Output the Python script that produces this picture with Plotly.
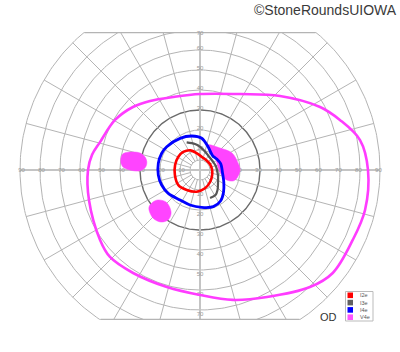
import numpy as np
import plotly.graph_objects as go

# ---------------- data (angles: deg, 0 = right, counter-clockwise; ecc: deg) -------------
v4e_ang = [90, 62, 42.8, 27.7, 19.7, 10.6, 0, -13.6, -24.6, -37.8, -46.8, -62.2, -75.8, -90,
           -105.8, -123, -136, -145, -164.9, 180, 172, 164.4, 149.5, 136.8, 125.9, 110.3]
v4e_ecc = [38, 43, 54.5, 67.8, 74.3, 81.4, 84, 84.9, 84, 84, 80.3, 71.8, 67, 62.5,
           60.8, 61.4, 62.6, 61, 57.5, 56, 54.5, 51.9, 49.3, 46, 42.6, 38.9]

i4e_ang = [122.2, 103.7, 86.9, 70.4, 50, 33, 17, -8, -28, -44, -56.5, -70, -87.4, -106,
           -123.7, -143.7, -158.6, -173.2, 170.9, 156.4, 145]
i4e_ecc = [18.7, 17.5, 15.9, 12.2, 9.6, 10.0, 10.8, 11.4, 13.5, 16.3, 18.6, 19.5, 18.7, 18.2,
           18.0, 19.7, 20.6, 21.0, 21.1, 20.9, 20.3]

i3e_ang = [115.8, 100.9, 88.8, 74.9, 58.7, 35.8, 12.3, -15.5, -35.8, -48.8, -58.2, -70.3]
i3e_ecc = [15.3, 13.2, 11.5, 9.6, 8.2, 7.7, 8.2, 9.3, 11.1, 13.3, 14.7, 14.9]

i2e_ang = [132.9, 115.7, 100.6, 80, 55, 30, 5, -23, -49, -74.7, -98.6, -123.6, -145,
           -168.7, 168.7, 148.5]
i2e_ecc = [12.3, 10.9, 8.5, 6.5, 5.8, 5.8, 6.0, 6.6, 7.8, 9.5, 11.0, 12.0, 13.2,
           12.8, 12.7, 12.7]

# scotomas (V4e), horizontal / vertical eccentricity in degrees
scot1_x = [-39, -37.5, -33.5, -30, -27.5, -26.6, -27.2, -30, -35, -38.5, -39.6]
scot1_y = [7.5, 8.6, 9, 8.5, 6.5, 4.1, 1.5, -0.4, 0, 1.5, 4.1]
scot2_x = [-21, -17, -15, -14.5, -16, -19.5, -23, -25, -25.5, -23.5]
scot2_y = [-15, -16, -19, -22, -25, -26, -24.5, -21.5, -18.5, -16]
scot3_x = [4, 10, 16, 19, 20, 18.5, 16.5, 12.5, 9.5, 8, 5.5]
scot3_y = [12.5, 11, 8.5, 3.5, 0, -4, -5.5, -4.5, 0, 5, 9]

ring_ecc = [5, 10, 20, 30, 40, 50, 60, 70, 80, 90]
spoke_angles = list(range(0, 360, 15))
h_labels = [10, 20, 30, 40, 50, 60, 70, 80, 90]
v_labels = [10, 20, 30, 40, 50, 60, 70]

legend_names = ["I2e", "I3e", "I4e", "V4e"]
legend_colors = ["#ff0000", "#606060", "#0000ff", "#ff55ff"]

Y_TOP, Y_BOT = 69, -75   # visible vertical extent (deg)

# ---------------- helpers -------------
def pol(ang, ecc, close=True):
    a = np.radians(np.array(ang, float))
    e = np.array(ecc, float)
    x, y = e * np.cos(a), e * np.sin(a)
    if close:
        x, y = np.append(x, x[0]), np.append(y, y[0])
    return x, y

fig = go.Figure()

# rings
t = np.radians(np.linspace(0, 360, 361))
for r in ring_ecc:
    fig.add_trace(go.Scatter(x=r * np.cos(t), y=r * np.sin(t), mode="lines",
                             line=dict(color="#6a6a6a" if r == 30 else "#b4b4b4",
                                       width=1.4 if r == 30 else 1),
                             hoverinfo="skip", showlegend=False))
# spokes
sx, sy = [], []
for a in spoke_angles:
    if a % 90 == 0:
        continue
    ar = np.radians(a)
    sx += [5 * np.cos(ar), 90 * np.cos(ar), None]
    sy += [5 * np.sin(ar), 90 * np.sin(ar), None]
fig.add_trace(go.Scatter(x=sx, y=sy, mode="lines", line=dict(color="#b4b4b4", width=1),
                         hoverinfo="skip", showlegend=False))
# main axes
fig.add_trace(go.Scatter(x=[-90, 90, None, 0, 0], y=[0, 0, None, -90, 90], mode="lines",
                         line=dict(color="#c4c4c4", width=2), hoverinfo="skip", showlegend=False))
# clip chords
ct = np.sqrt(90 ** 2 - Y_TOP ** 2)
cb = np.sqrt(90 ** 2 - Y_BOT ** 2)
fig.add_trace(go.Scatter(x=[-ct, ct, None, -cb, cb], y=[Y_TOP - 0.3, Y_TOP - 0.3, None, Y_BOT + 0.3, Y_BOT + 0.3],
                         mode="lines", line=dict(color="#b4b4b4", width=1.2),
                         hoverinfo="skip", showlegend=False))

# labels
lx = [-r + 0.8 for r in h_labels] + [r - 0.8 for r in h_labels] + [0] * len(v_labels) * 2
ly = [0] * len(h_labels) * 2 + [min(r + 1, Y_TOP - 0.6) for r in v_labels] + [-(r + 2.3) for r in v_labels]
lt = [str(r) for r in h_labels] * 2 + [str(r) for r in v_labels] * 2
fig.add_trace(go.Scatter(x=lx, y=ly, text=lt, mode="text", textfont=dict(size=6, color="#9a9a9a"),
                         hoverinfo="skip", showlegend=False, cliponaxis=False))

# scotomas
for sxv, syv in [(scot1_x, scot1_y), (scot2_x, scot2_y), (scot3_x, scot3_y)]:
    fig.add_trace(go.Scatter(x=sxv + [sxv[0]], y=syv + [syv[0]], mode="lines", fill="toself",
                             fillcolor="#ff44ff", line=dict(color="#ff44ff", width=0.5, shape="spline"),
                             hoverinfo="skip", showlegend=False))

# isopters
x, y = pol(v4e_ang, v4e_ecc)
fig.add_trace(go.Scatter(x=x, y=y, mode="lines", name="V4e",
                         line=dict(color="#ff3cff", width=2.6, shape="spline", smoothing=1.0), showlegend=False))
x, y = pol(i4e_ang, i4e_ecc)
fig.add_trace(go.Scatter(x=x, y=y, mode="lines", name="I4e",
                         line=dict(color="#0000ff", width=2.8, shape="spline", smoothing=0.9), showlegend=False))
x, y = pol(i3e_ang, i3e_ecc, close=False)
fig.add_trace(go.Scatter(x=x, y=y, mode="lines", name="I3e",
                         line=dict(color="#555555", width=2.2, shape="spline", smoothing=0.9), showlegend=False))
x, y = pol(i2e_ang, i2e_ecc)
fig.add_trace(go.Scatter(x=x, y=y, mode="lines", name="I2e",
                         line=dict(color="#ff0000", width=2.6, shape="spline", smoothing=0.9), showlegend=False))

# manual legend (pixel-based, paper coords)
W, H = 400, 352
def px(xp):
    return xp / W
def py(yp):
    return 1 - yp / H
shapes = [dict(type="rect", xref="paper", yref="paper", x0=px(345.5), x1=px(373), y0=py(291.5), y1=py(321),
               line=dict(color="#bbbbbb", width=1), fillcolor="white")]
annotations = []
for i, (nm, col) in enumerate(zip(legend_names, legend_colors)):
    yc = 295.3 + i * 7.3
    shapes.append(dict(type="rect", xref="paper", yref="paper", x0=px(347.5), x1=px(353),
                       y0=py(yc + 2.8), y1=py(yc - 2.8), line=dict(width=0), fillcolor=col))
    annotations.append(dict(text=nm, xref="paper", yref="paper", x=px(358), y=py(yc), xanchor="left",
                            yanchor="middle", showarrow=False, font=dict(size=5.5, color="#555555")))
annotations.append(dict(text="OD", xref="paper", yref="paper", x=px(328.5), y=py(317), xanchor="center",
                        yanchor="middle", showarrow=False, font=dict(size=11, color="#333333",
                                                                     family="Liberation Sans")))
annotations.append(dict(text="©StoneRoundsUIOWA", xref="paper", yref="paper", x=px(399), y=py(10.5),
                        xanchor="right", yanchor="middle", showarrow=False,
                        font=dict(size=14, color="#3a3a3a", family="Liberation Sans")))

fig.update_layout(
    width=W, height=H, margin=dict(l=0, r=0, t=0, b=0),
    paper_bgcolor="white", plot_bgcolor="white",
    xaxis=dict(range=[-100, 100], visible=False, domain=[0, 1]),
    yaxis=dict(range=[Y_BOT, Y_TOP], visible=False, domain=[(H - 320) / H, (H - 32) / H]),
    shapes=shapes, annotations=annotations, showlegend=False,
    font=dict(family="Liberation Sans"),
)
fig.write_html("out.html")
